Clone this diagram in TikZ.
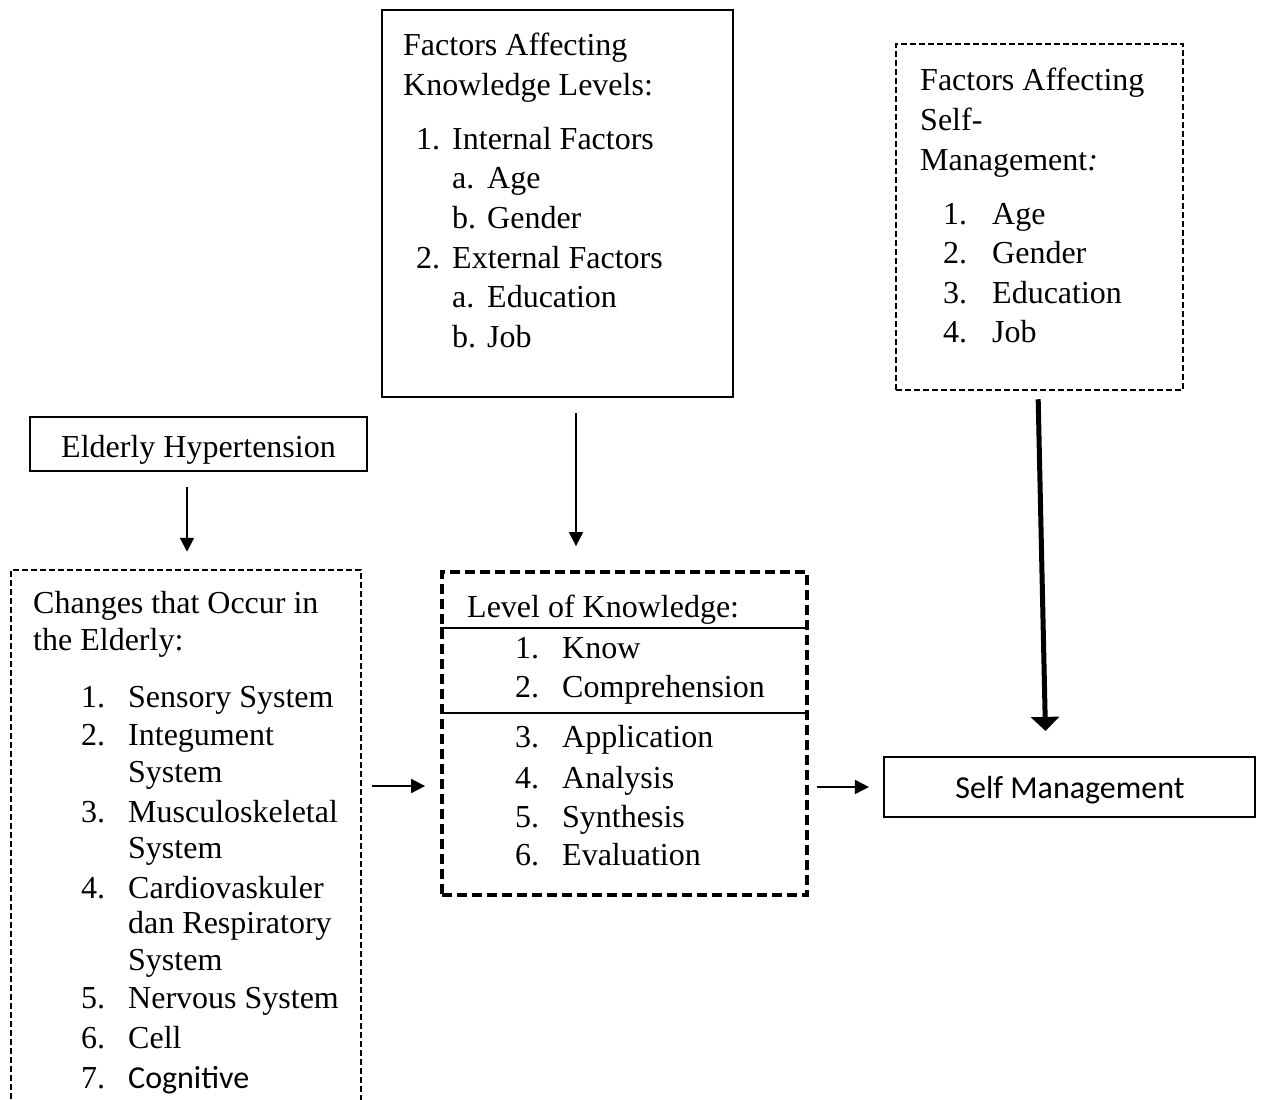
\documentclass[tikz,border=0pt]{standalone}
\usepackage{fontspec}
\setmainfont{Liberation Serif}
\newfontfamily\calib{Carlito}
\usetikzlibrary{arrows.meta}
\begin{document}
\begin{tikzpicture}[x=1pt,y=-1pt,
  txt/.style={anchor=base west, inner sep=0pt, font=\fontsize{32}{38}\selectfont},
  ctxt/.style={txt, anchor=base},
  solidbox/.style={draw, line width=2.2pt, inner sep=0pt},
  thindash/.style={draw, line width=2.5pt, dash pattern=on 6pt off 3pt, inner sep=0pt},
  thickdash/.style={draw, line width=3.8pt, dash pattern=on 10pt off 5pt, inner sep=0pt},
  arr/.style={line width=2pt, -{Triangle[width=14pt,length=14pt]}},
  bigarr/.style={line width=5pt, -{Triangle[width=28pt,length=14pt]}}]
\useasboundingbox (0,0) rectangle (1261,1100);
\clip (0,0) rectangle (1261,1100);

% ---------- boxes ----------
\node[solidbox, minimum width=351pt, minimum height=387pt] (kf) at (557.5,203.5) {};
\node[thindash, minimum width=287pt, minimum height=346pt] (smf) at (1039.5,217) {};
\node[solidbox, line width=1.8pt, minimum width=337pt, minimum height=54pt] (eh) at (198.5,444) {};
\node[thindash, minimum width=350pt, minimum height=550pt] (ch) at (186,845) {};
\node[thickdash, minimum width=365pt, minimum height=323pt] (lok) at (624.5,733.5) {};
\node[solidbox, minimum width=371pt, minimum height=60pt] (sm) at (1069.5,787) {};

% dividers in Level of Knowledge
\draw[line width=2.2pt] ([yshift=-58pt]lok.north west) -- ([yshift=-58pt]lok.north east);
\draw[line width=2.2pt] ([yshift=-143pt]lok.north west) -- ([yshift=-143pt]lok.north east);

% ---------- texts: knowledge factors ----------
\node[txt] (kft1) at (403,55) {Factors Affecting};
\node[txt] (kft2) at (403,95) {Knowledge Levels:};
\node[txt] (kfn1) at (416,149) {1.};
\node[txt] (kfi1) at (452,149) {Internal Factors};
\node[txt] (kfa1) at (452,188) {a.};
\node[txt] (kfb1) at (487,188) {Age};
\node[txt] (kfa2) at (452,228) {b.};
\node[txt] (kfb2) at (487,228) {Gender};
\node[txt] (kfn2) at (416,268) {2.};
\node[txt] (kfi2) at (452,268) {External Factors};
\node[txt] (kfa3) at (452,307) {a.};
\node[txt] (kfb3) at (487,307) {Education};
\node[txt] (kfa4) at (452,347) {b.};
\node[txt] (kfb4) at (487,347) {Job};

% ---------- texts: self-management factors ----------
\node[txt] (smt1) at (920,90) {Factors Affecting};
\node[txt] (smt2) at (920,130) {Self-};
\node[txt] (smt3) at (920,170) {Management\textit{:}};
\node[txt] (smn1) at (943,224) {1.};
\node[txt] (smi1) at (992,224) {Age};
\node[txt] (smn2) at (943,263) {2.};
\node[txt] (smi2) at (992,263) {Gender};
\node[txt] (smn3) at (943,303) {3.};
\node[txt] (smi3) at (992,303) {Education};
\node[txt] (smn4) at (943,342) {4.};
\node[txt] (smi4) at (992,342) {Job};

% ---------- Elderly Hypertension ----------
\node[ctxt] (eht) at (198.5,457) {Elderly Hypertension};

% ---------- changes ----------
\node[txt] (cht1) at (33,613) {Changes that Occur in};
\node[txt] (cht2) at (33,650) {the Elderly:};
\node[txt] (chn1) at (81,707) {1.};
\node[txt] (chi1) at (128,707) {Sensory System};
\node[txt] (chn2) at (81,745) {2.};
\node[txt] (chi2) at (128,745) {Integument};
\node[txt] (chi2b) at (128,782) {System};
\node[txt] (chn3) at (81,822) {3.};
\node[txt] (chi3) at (128,822) {Musculoskeletal};
\node[txt] (chi3b) at (128,858) {System};
\node[txt] (chn4) at (81,898) {4.};
\node[txt] (chi4) at (128,898) {Cardiovaskuler};
\node[txt] (chi4b) at (128,933) {dan Respiratory};
\node[txt] (chi4c) at (128,970) {System};
\node[txt] (chn5) at (81,1008) {5.};
\node[txt] (chi5) at (128,1008) {Nervous System};
\node[txt] (chn6) at (81,1048) {6.};
\node[txt] (chi6) at (128,1048) {Cell};
\node[txt] (chn7) at (81,1088) {7.};
\node[txt, font=\calib\fontsize{32}{38}\selectfont] (chi7) at (128,1088) {Cognitive};

% ---------- level of knowledge ----------
\node[txt] (lokt) at (467,617) {Level of Knowledge:};
\node[txt] (lokn1) at (515,658) {1.};
\node[txt] (loki1) at (562,658) {Know};
\node[txt] (lokn2) at (515,697) {2.};
\node[txt] (loki2) at (562,697) {Comprehension};
\node[txt] (lokn3) at (515,747) {3.};
\node[txt] (loki3) at (562,747) {Application};
\node[txt] (lokn4) at (515,788) {4.};
\node[txt] (loki4) at (562,788) {Analysis};
\node[txt] (lokn5) at (515,827) {5.};
\node[txt] (loki5) at (562,827) {Synthesis};
\node[txt] (lokn6) at (515,865) {6.};
\node[txt] (loki6) at (562,865) {Evaluation};

% ---------- self management ----------
\node[ctxt, font=\calib\fontsize{32}{38}\selectfont] (smt) at (1070,798) {Self Management};

% ---------- connectors ----------
\draw[arr, shorten <=15pt, shorten >=17pt] ([xshift=-11.5pt]eh.south) -- ([xshift=1pt]ch.north);
\draw[arr, shorten <=15pt, shorten >=24pt] ([xshift=18.5pt]kf.south) -- ([xshift=18.5pt]kf.south |- lok.north);
\draw[bigarr, shorten <=8pt, shorten >=25pt] ([xshift=-1.5pt]smf.south) -- ([xshift=-23.5pt]sm.north);
\draw[arr, shorten <=10pt, shorten >=15pt] ([yshift=59pt]ch.east) -- ([yshift=59pt]ch.east -| lok.west);
\draw[arr, shorten <=8pt, shorten >=14pt] (lok.east |- sm.west) -- (sm.west);
\end{tikzpicture}
\end{document}
